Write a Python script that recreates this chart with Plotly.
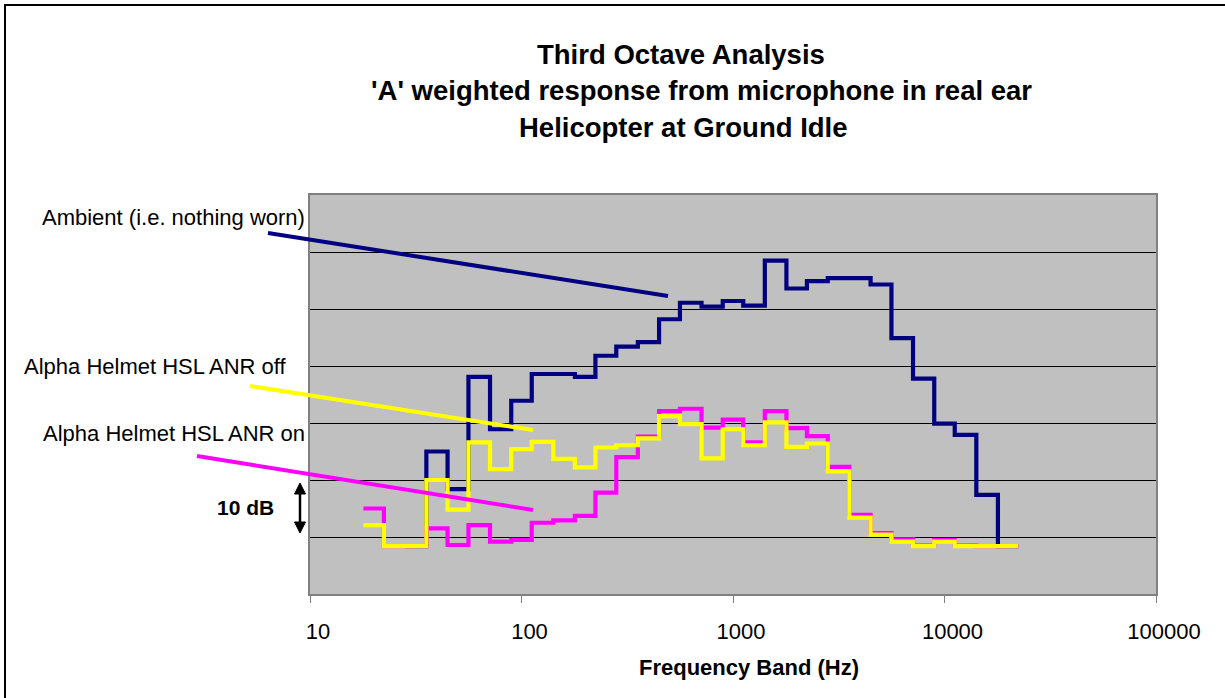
import plotly.graph_objects as go

# ---------------- data ----------------
bands_hz = [20, 25, 31.5, 40, 50, 63, 80, 100, 125, 160, 200, 250, 315, 400, 500, 630,
            800, 1000, 1250, 1600, 2000, 2500, 3150, 4000, 5000, 6300, 8000, 10000,
            12500, 16000, 20000]

ambient = [None, None, 8.4, 25.0, 18.4, 38.1, 28.9, 33.9, 38.6, 38.6, 38.1, 41.8, 43.4,
           44.2, 48.2, 51.1, 50.4, 51.4, 50.6, 58.5, 53.6, 54.9, 55.4, 55.4, 54.3, 44.9,
           37.8, 29.9, 27.9, 17.4, 8.4]

anr_off = [12.1, 8.4, 8.4, 20.0, 14.8, 26.6, 21.9, 25.4, 26.7, 23.7, 22.2, 25.7, 26.1,
           27.3, 31.2, 29.8, 23.8, 28.9, 26.1, 30.1, 25.8, 26.4, 21.5, 13.4, 10.4, 9.2,
           8.4, 9.2, 8.4, 8.4, 8.4]

anr_on = [15.0, 8.4, 8.4, 11.5, 8.6, 12.1, 9.2, 9.5, 12.5, 12.9, 13.7, 17.8, 24.0,
          27.6, 32.1, 32.5, 29.2, 30.6, 26.6, 32.1, 29.1, 27.7, 22.3, 13.9, 10.7, 9.6,
          8.5, 9.5, 8.5, 8.4, 8.4]

x_ticks = [10, 100, 1000, 10000, 100000]
x_tick_text = ["10", "100", "1000", "10000", "100000"]

series_names = ["Ambient (i.e. nothing worn)", "Alpha Helmet HSL ANR off", "Alpha Helmet HSL ANR on"]
title_lines = ["Third Octave Analysis",
               "'A' weighted response from microphone in real ear",
               "Helicopter at Ground Idle"]
x_title = "Frequency Band (Hz)"
scale_label = "10 dB"

# ---------------- helpers ----------------
W, H = 1225, 698
L, R, T, B = 310, 1156, 195, 594


def px(x):
    return (x - L) / (R - L)


def py(y):
    return (B - y) / (B - T)


# band edges (geometric means between neighbouring centres)
edges = [bands_hz[0] / (bands_hz[1] / bands_hz[0]) ** 0.5]
for a, b in zip(bands_hz[:-1], bands_hz[1:]):
    edges.append((a * b) ** 0.5)
edges.append(bands_hz[-1] * (bands_hz[-1] / bands_hz[-2]) ** 0.5)


def step_xy(values):
    xs, ys = [], []
    for i, v in enumerate(values):
        if v is None:
            continue
        xs.append(edges[i])
        ys.append(v)
    last = max(i for i, v in enumerate(values) if v is not None)
    xs.append(edges[last + 1])
    ys.append(values[last])
    return xs, ys


FONT = "Arial, 'Liberation Sans', sans-serif"
NAVY, YELLOW, MAGENTA = "#000080", "#FFFF00", "#FF00FF"

fig = go.Figure()
for vals, col, name in [(ambient, NAVY, series_names[0]),
                        (anr_on, MAGENTA, series_names[2]),
                        (anr_off, YELLOW, series_names[1])]:
    xs, ys = step_xy(vals)
    fig.add_trace(go.Scatter(x=xs, y=ys, mode="lines", line=dict(color=col, width=4.2, shape="hv"),
                             name=name, showlegend=False, hoverinfo="skip"))


def tri(apex_x, apex_y, base_y, half_w):
    return (f"M {px(apex_x)} {py(apex_y)} L {px(apex_x - half_w)} {py(base_y)} "
            f"L {px(apex_x + half_w)} {py(base_y)} Z")


shapes = [
    # outer chart frame
    dict(type="rect", xref="paper", yref="paper", x0=px(5), y0=py(760), x1=px(1300), y1=py(5),
         line=dict(color="black", width=2), layer="below"),
    # leader lines
    dict(type="line", xref="paper", yref="paper", x0=px(268), y0=py(233), x1=px(668), y1=py(296),
         line=dict(color=NAVY, width=4)),
    dict(type="line", xref="paper", yref="paper", x0=px(250), y0=py(386), x1=px(533), y1=py(430),
         line=dict(color=YELLOW, width=4)),
    dict(type="line", xref="paper", yref="paper", x0=px(197), y0=py(456), x1=px(533), y1=py(510),
         line=dict(color=MAGENTA, width=4)),
    # 10 dB double-headed arrow
    dict(type="line", xref="paper", yref="paper", x0=px(300), y0=py(490), x1=px(300), y1=py(526),
         line=dict(color="black", width=2.5)),
    dict(type="path", xref="paper", yref="paper", path=tri(300, 483, 494, 5.5),
         fillcolor="black", line=dict(color="black", width=1)),
    dict(type="path", xref="paper", yref="paper", path=tri(300, 533, 522, 5.5),
         fillcolor="black", line=dict(color="black", width=1)),
]

annotations = [
    dict(text=f"<b>{title_lines[0]}</b>", x=px(680.5), y=py(54), xanchor="center", yanchor="middle"),
    dict(text=f"<b>{title_lines[1]}</b>", x=px(701), y=py(90.5), xanchor="center", yanchor="middle"),
    dict(text=f"<b>{title_lines[2]}</b>", x=px(683), y=py(127.5), xanchor="center", yanchor="middle"),
]
for a in annotations:
    a.update(xref="paper", yref="paper", showarrow=False, font=dict(family=FONT, size=27.5, color="black"))

for txt, xr, yc in [(series_names[0], 307, 217.5), (series_names[1], 289, 366), (series_names[2], 307, 433.5)]:
    annotations.append(dict(text=txt, x=px(xr), y=py(yc), xref="paper", yref="paper", xanchor="right",
                            yanchor="middle", showarrow=False, font=dict(family=FONT, size=22, color="black")))

annotations.append(dict(text=f"<b>{scale_label}</b>", x=px(276), y=py(507.5), xref="paper", yref="paper",
                        xanchor="right", yanchor="middle", showarrow=False,
                        font=dict(family=FONT, size=21, color="black")))
annotations.append(dict(text=f"<b>{x_title}</b>", x=px(748.5), y=py(667.5), xref="paper", yref="paper",
                        xanchor="center", yanchor="middle", showarrow=False,
                        font=dict(family=FONT, size=22, color="black")))

fig.update_layout(
    width=W, height=H,
    margin=dict(l=L, r=W - R, t=T, b=H - B, pad=0),
    paper_bgcolor="white", plot_bgcolor="#C0C0C0",
    font=dict(family=FONT, size=22, color="black"),
    shapes=shapes, annotations=annotations, showlegend=False,
)
fig.update_xaxes(type="log", range=[1, 5], tickvals=x_ticks, ticktext=x_tick_text,
                 ticks="outside", ticklen=7, tickwidth=1, tickcolor="#808080",
                 showgrid=False, zeroline=False, showline=True, linecolor="#808080",
                 linewidth=2, mirror=True, tickfont=dict(size=22, family=FONT),
                 ticklabelshift=8, ticklabelstandoff=10)
fig.update_yaxes(range=[0, 70], dtick=10, showticklabels=False, ticks="",
                 showgrid=True, gridcolor="black", gridwidth=1, zeroline=False,
                 showline=True, linecolor="#808080", linewidth=2, mirror=True)

fig.write_html("out.html")
